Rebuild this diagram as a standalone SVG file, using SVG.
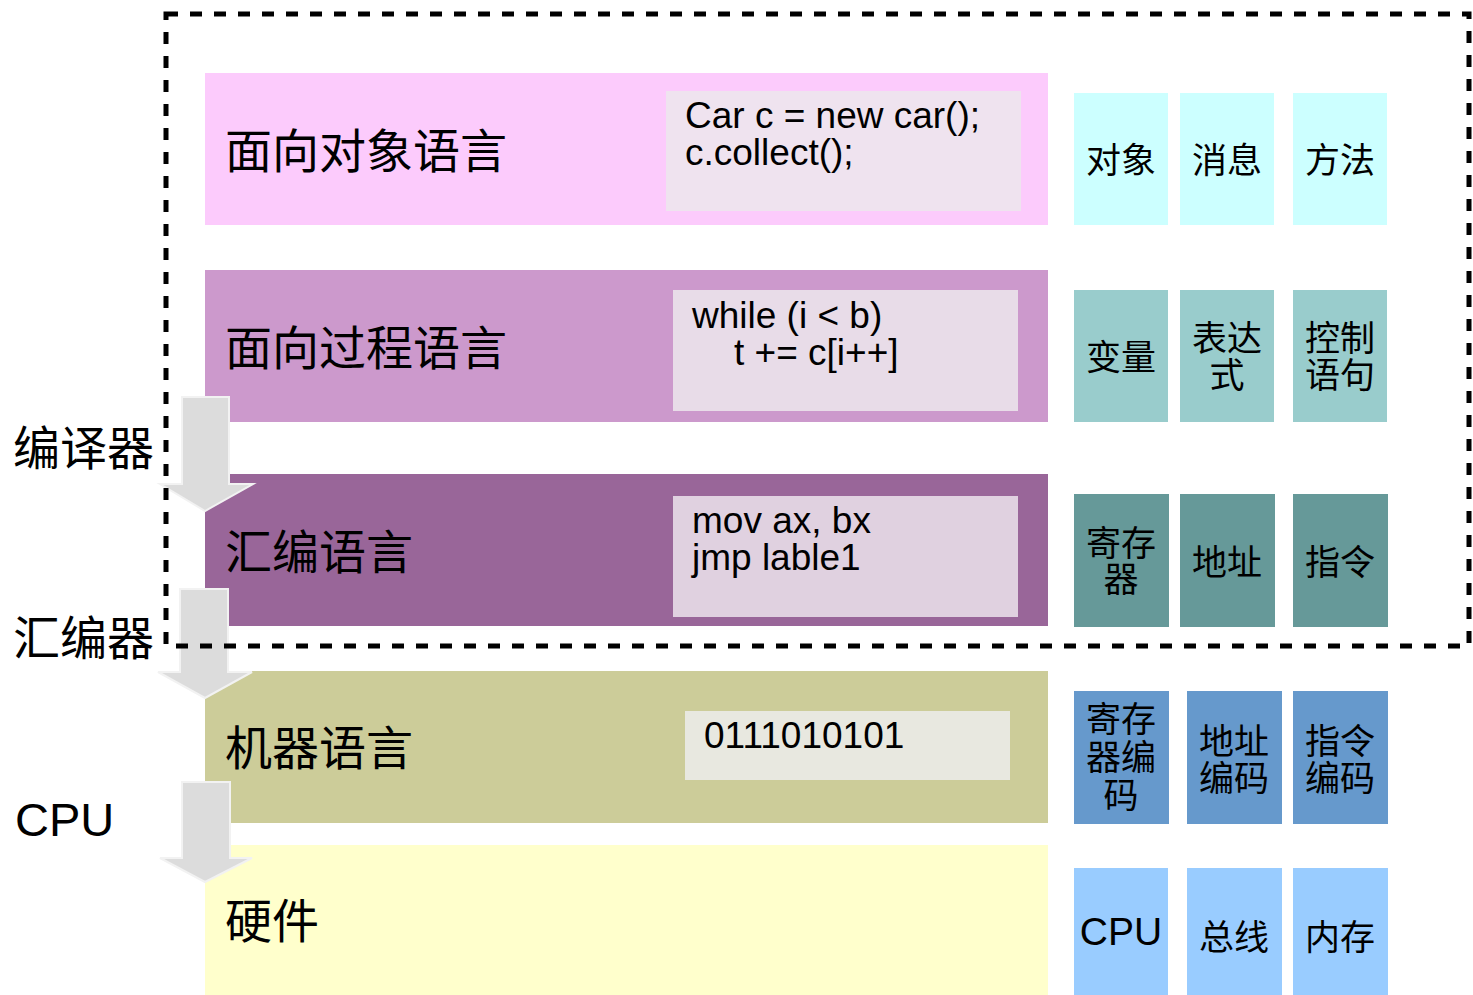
<svg xmlns="http://www.w3.org/2000/svg" width="1473" height="995" viewBox="0 0 1473 995">
<style>
.cjk{font-family:"Noto Sans CJK SC","Noto Sans",sans-serif;fill:#000}
.lbl{font-size:47px}
.sm{font-size:35px;text-anchor:middle}
.code{font-family:"Liberation Sans",Arial,sans-serif;font-size:37px;fill:#000}
.arrow{fill:#dcdcdc;stroke:#f2f2f2;stroke-width:2}
</style>
<rect width="1473" height="995" fill="#fff"/>
<g id="layer-oo">
<rect x="205" y="73" width="843" height="152" fill="#fccbfc"/>
<rect x="666" y="91" width="355" height="120" fill="#efe3ef"/>
<text class="cjk lbl" x="225" y="168">面向对象语言</text>
<text class="code" x="685" y="128">Car c = new car();</text>
<text class="code" x="685" y="165">c.collect();</text>
</g>
<g id="layer-proc">
<rect x="205" y="270" width="843" height="152" fill="#cc99cc"/>
<rect x="673" y="290" width="345" height="121" fill="#e8dce8"/>
<text class="cjk lbl" x="225" y="365">面向过程语言</text>
<text class="code" x="692" y="328">while (i &lt; b)</text>
<text class="code" x="734" y="365">t += c[i++]</text>
</g>
<g id="layer-asm">
<rect x="205" y="474" width="843" height="152" fill="#996699"/>
<rect x="673" y="496" width="345" height="121" fill="#e0d1e0"/>
<text class="cjk lbl" x="225" y="569">汇编语言</text>
<text class="code" x="692" y="533">mov ax, bx</text>
<text class="code" x="692" y="570">jmp lable1</text>
</g>
<g id="layer-machine">
<rect x="205" y="671" width="843" height="152" fill="#cccc99"/>
<rect x="685" y="711" width="325" height="69" fill="#e8e8e0"/>
<text class="cjk lbl" x="225" y="765">机器语言</text>
<text class="code" x="704" y="748">0111010101</text>
</g>
<g id="layer-hw">
<rect x="205" y="845" width="843" height="150" fill="#ffffcc"/>
<text class="cjk lbl" x="225" y="938">硬件</text>
</g>
<g id="row1">
<rect x="1074" y="93" width="94" height="132" fill="#ccffff"/>
<rect x="1180" y="93" width="94" height="132" fill="#ccffff"/>
<rect x="1293" y="93" width="94" height="132" fill="#ccffff"/>
<text class="cjk sm" x="1121" y="173">对象</text>
<text class="cjk sm" x="1227" y="173">消息</text>
<text class="cjk sm" x="1340" y="173">方法</text>
</g>
<g id="row2">
<rect x="1074" y="290" width="94" height="132" fill="#99cccc"/>
<rect x="1180" y="290" width="94" height="132" fill="#99cccc"/>
<rect x="1293" y="290" width="94" height="132" fill="#99cccc"/>
<text class="cjk sm" x="1121" y="370">变量</text>
<text class="cjk sm" x="1227" y="351">表达</text>
<text class="cjk sm" x="1227" y="388">式</text>
<text class="cjk sm" x="1340" y="351">控制</text>
<text class="cjk sm" x="1340" y="388">语句</text>
</g>
<g id="row3">
<rect x="1074" y="494" width="95" height="133" fill="#669999"/>
<rect x="1180" y="494" width="95" height="133" fill="#669999"/>
<rect x="1293" y="494" width="95" height="133" fill="#669999"/>
<text class="cjk sm" x="1121" y="556">寄存</text>
<text class="cjk sm" x="1121" y="592">器</text>
<text class="cjk sm" x="1227" y="575">地址</text>
<text class="cjk sm" x="1340" y="575">指令</text>
</g>
<g id="row4">
<rect x="1074" y="691" width="95" height="133" fill="#6699cc"/>
<rect x="1187" y="691" width="95" height="133" fill="#6699cc"/>
<rect x="1293" y="691" width="95" height="133" fill="#6699cc"/>
<text class="cjk sm" x="1121" y="732">寄存</text>
<text class="cjk sm" x="1121" y="770">器编</text>
<text class="cjk sm" x="1121" y="808">码</text>
<text class="cjk sm" x="1234" y="754">地址</text>
<text class="cjk sm" x="1234" y="791">编码</text>
<text class="cjk sm" x="1340" y="754">指令</text>
<text class="cjk sm" x="1340" y="791">编码</text>
</g>
<g id="row5">
<rect x="1074" y="868" width="94" height="127" fill="#99ccff"/>
<rect x="1187" y="868" width="95" height="127" fill="#99ccff"/>
<rect x="1293" y="868" width="95" height="127" fill="#99ccff"/>
<text class="code" x="1121" y="945" text-anchor="middle" style="font-size:39px">CPU</text>
<text class="cjk sm" x="1234" y="950">总线</text>
<text class="cjk sm" x="1340" y="950">内存</text>
</g>
<g id="connectors">
<polygon class="arrow" points="182,397 229,397 229,484 253,484 205,511 160,484 182,484"/>
<polygon class="arrow" points="180,589 228,589 228,672 252,672 205,698 158,672 180,672"/>
<polygon class="arrow" points="182,782 230,782 230,858 252,858 205,882 160,858 182,858"/>
</g>
<g id="boundary">
<rect x="166" y="14" width="1303" height="632" fill="none" stroke="#000" stroke-width="5" stroke-dasharray="12 12"/>
</g>
<g id="side-labels">
<text class="cjk lbl" x="13" y="465">编译器</text>
<text class="cjk lbl" x="13" y="655">汇编器</text>
<text class="code" x="15" y="836" style="font-size:47px">CPU</text>
</g>
</svg>
